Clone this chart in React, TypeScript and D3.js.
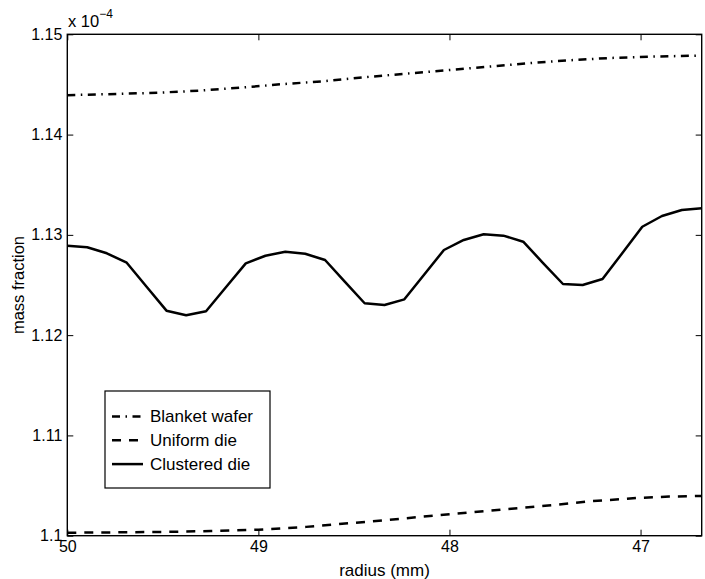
import React, { useEffect, useRef } from "react";
import * as d3 from "d3";

// tick values and labels
const radiusTicks = [50, 49, 48, 47];
const fractionTicks = [1.1, 1.11, 1.12, 1.13, 1.14, 1.15];
const fractionLabels = ["1.1", "1.11", "1.12", "1.13", "1.14", "1.15"];

// clustered die (solid), values in units of 1e-4
const clusteredRadius = [
  50.0, 49.896, 49.793, 49.689, 49.585, 49.481, 49.378, 49.274, 49.17, 49.066,
  48.963, 48.859, 48.755, 48.651, 48.548, 48.444, 48.34, 48.236, 48.133, 48.029,
  47.925, 47.821, 47.718, 47.614, 47.51, 47.406, 47.303, 47.199, 47.095, 46.991,
  46.888, 46.784, 46.68,
];
const clusteredDie = [
  1.12892, 1.12876, 1.12816, 1.12722, 1.12483, 1.12244, 1.12198, 1.12238, 1.12477, 1.12716,
  1.12792, 1.12832, 1.12812, 1.12749, 1.12533, 1.12318, 1.12301, 1.12357, 1.12603, 1.12849,
  1.12949, 1.13006, 1.12992, 1.12932, 1.12719, 1.1251, 1.125, 1.1256, 1.12819, 1.13081,
  1.13188, 1.13248, 1.13265,
];

// blanket wafer (dash-dot)
const blanketRadius = [
  50.0, 49.74, 49.52, 49.31, 49.09, 48.88, 48.66, 48.45, 48.23, 48.02, 47.8, 47.59,
  47.37, 47.16, 46.95, 46.68,
];
const blanketWafer = [
  1.14393, 1.14405, 1.14418, 1.14438, 1.14468, 1.14502, 1.14532, 1.14571, 1.14607,
  1.14641, 1.14677, 1.14711, 1.14741, 1.14764, 1.14777, 1.14788,
];

// uniform die (dashed)
const uniformRadius = [
  50.0, 49.75, 49.5, 49.25, 49.0, 48.75, 48.5, 48.25, 48.0, 47.75, 47.5, 47.25, 47.0,
  46.85, 46.68,
];
const uniformDie = [
  1.1003, 1.10033, 1.10038, 1.10046, 1.1006, 1.10088, 1.10128, 1.1017, 1.10214,
  1.10256, 1.10298, 1.10345, 1.10378, 1.1039, 1.10397,
];

const legendLabels = ["Blanket wafer", "Uniform die", "Clustered die"];
const legendDash = ["8,5.5,1.5,5.5", "9,8", null];

const font = "'Liberation Sans', Arial, Helvetica, sans-serif";

export default function App() {
  const ref = useRef<SVGSVGElement>(null);

  useEffect(() => {
    const svg = d3.select(ref.current);
    svg.selectAll("*").remove();

    const left = 67.3, right = 701.7, top = 34.3, bottom = 535.7;

    const x = d3.scaleLinear().domain([50, 46.68]).range([left, right]);
    const y = d3.scaleLinear().domain([1.1, 1.15]).range([bottom, top]);

    const line = d3.line<[number, number]>()
      .x(d => x(d[0]))
      .y(d => y(d[1]));

    svg.append("rect")
      .attr("width", 705).attr("height", 579).attr("fill", "#fff");

    // box ticks (inside, on all four sides)
    svg.append("g")
      .attr("transform", `translate(0,${bottom})`)
      .call(d3.axisBottom(x).tickValues(radiusTicks).tickSize(-6).tickPadding(5).tickFormat(d3.format("d")))
      .call(g => g.select(".domain").remove())
      .call(g => g.selectAll("text").attr("font-size", 16).attr("font-family", font).attr("fill", "#000"));

    svg.append("g")
      .attr("transform", `translate(0,${top})`)
      .call(d3.axisTop(x).tickValues(radiusTicks).tickSize(-6).tickFormat(() => ""))
      .call(g => g.select(".domain").remove());

    svg.append("g")
      .attr("transform", `translate(${left},0)`)
      .call(d3.axisLeft(y).tickValues(fractionTicks).tickSize(-6).tickPadding(5)
        .tickFormat((d, i) => fractionLabels[i]))
      .call(g => g.select(".domain").remove())
      .call(g => g.selectAll("text").attr("font-size", 16).attr("font-family", font).attr("fill", "#000"));

    svg.append("g")
      .attr("transform", `translate(${right},0)`)
      .call(d3.axisRight(y).tickValues(fractionTicks).tickSize(-6).tickFormat(() => ""))
      .call(g => g.select(".domain").remove());

    svg.selectAll(".tick line").attr("stroke", "#000").attr("stroke-width", 1);

    // series
    const series = [
      { xs: blanketRadius, ys: blanketWafer, dash: legendDash[0] },
      { xs: uniformRadius, ys: uniformDie, dash: legendDash[1] },
      { xs: clusteredRadius, ys: clusteredDie, dash: legendDash[2] },
    ];
    series.forEach(s => {
      svg.append("path")
        .attr("d", line(s.xs.map((r, i) => [r, s.ys[i]] as [number, number])))
        .attr("fill", "none")
        .attr("stroke", "#000")
        .attr("stroke-width", 2.5)
        .attr("stroke-linejoin", "round")
        .attr("stroke-dasharray", s.dash);
    });

    // axes box
    svg.append("rect")
      .attr("x", left).attr("y", top)
      .attr("width", right - left).attr("height", bottom - top)
      .attr("fill", "none").attr("stroke", "#000").attr("stroke-width", 1.4);

    // exponent
    const expo = svg.append("text")
      .attr("x", 68).attr("y", 27)
      .attr("font-family", font).attr("font-size", 16.5);
    expo.append("tspan").text("x 10");
    expo.append("tspan").attr("dy", -9).attr("font-size", 12).text("−4");

    // axis labels
    svg.append("text")
      .attr("x", (left + right) / 2).attr("y", 576)
      .attr("text-anchor", "middle")
      .attr("font-family", font).attr("font-size", 17)
      .text("radius (mm)");

    svg.append("text")
      .attr("transform", `translate(24,${(top + bottom) / 2}) rotate(-90)`)
      .attr("text-anchor", "middle")
      .attr("font-family", font).attr("font-size", 16.5)
      .text("mass fraction");

    // legend
    const lg = svg.append("g");
    lg.append("rect")
      .attr("x", 105).attr("y", 391).attr("width", 165).attr("height", 97)
      .attr("fill", "#fff").attr("stroke", "#000").attr("stroke-width", 1.2);

    legendLabels.forEach((label, i) => {
      const cy = 416.5 + i * 23.8;
      lg.append("line")
        .attr("x1", 112).attr("x2", 143).attr("y1", cy).attr("y2", cy)
        .attr("stroke", "#000").attr("stroke-width", 2.5)
        .attr("stroke-dasharray", legendDash[i]);
      lg.append("text")
        .attr("x", 150).attr("y", cy).attr("dy", "0.35em")
        .attr("font-family", font).attr("font-size", 17)
        .text(label);
    });
  }, []);

  return (
    <svg ref={ref} width={705} height={579}
      style={{ position: "absolute", left: 0, top: 0, display: "block" }} />
  );
}
